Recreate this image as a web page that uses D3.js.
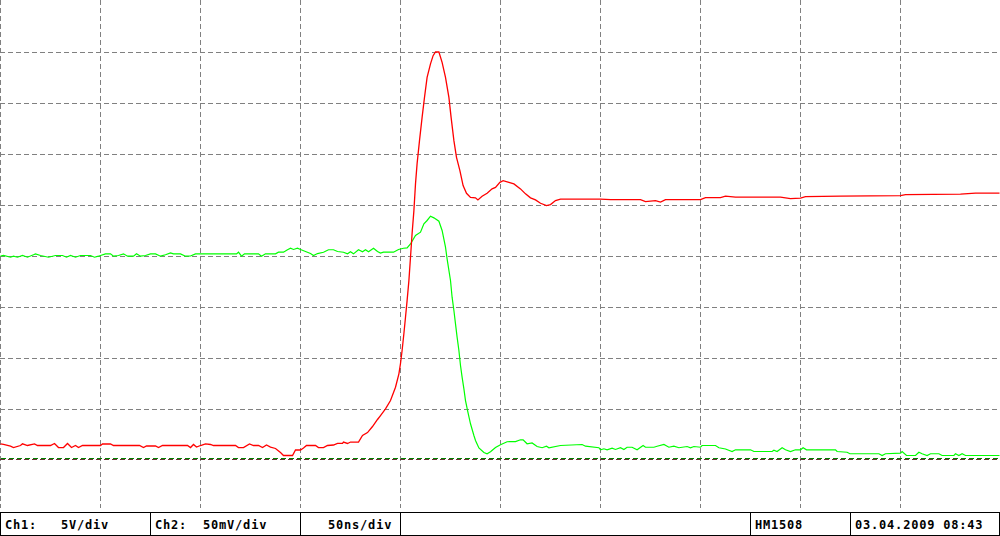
<!DOCTYPE html>
<html>
<head>
<meta charset="utf-8">
<script src="https://cdn.jsdelivr.net/npm/d3@7"></script>
<style>
  html, body { margin: 0; padding: 0; background: #ffffff; }
  svg { display: block; }
  .lbl { font-family: "DejaVu Sans Mono", monospace; font-weight: bold; font-size: 12px; fill: #000; letter-spacing: 0.8px; white-space: pre; }
</style>
</head>
<body>
<svg id="chart" width="1000" height="536"></svg>
<script>
// ---- data (time in ns, Ch1 in volts, Ch2 in millivolts) ----
const timeTicks = [0, 50, 100, 150, 200, 250, 300, 350, 400, 450];
const divTicks = [1, 2, 3, 4, 5, 6, 7, 8];

const ch1 = [
  [0,1.64],[1.5,1.57],[5,1.40],[6.5,1.27],[10,1.47],[11,1.64],[13.5,1.47],[17,1.62],[18.5,1.47],
  [25,1.47],[27,1.67],[29,1.27],[31.5,1.27],[33.5,1.67],[35.5,1.27],[37.5,1.47],[39,1.27],[41,1.47],
  [50,1.47],[51,1.62],[55,1.62],[56.5,1.47],[69.5,1.47],[71.5,1.27],[73,1.42],[77.5,1.42],[79,1.27],
  [81,1.47],[93.5,1.47],[95,1.27],[96.5,1.57],[98,1.32],[100,1.47],[102.5,1.62],[105,1.57],[106.5,1.47],
  [117.5,1.47],[119,1.27],[121.5,1.27],[124.5,1.62],[126.5,1.47],[129,1.47],[131,1.27],[133,1.52],
  [135,1.32],[137.5,1.18],[140,0.78],[141.5,0.49],[146,0.49],[147.5,1.03],[150,1.03],[151.5,1.23],
  [153,1.47],[157.5,1.47],[159,1.27],[161.5,1.27],[163.5,1.47],[166.5,1.52],[168.5,1.67],[171,1.67],
  [171.5,1.81],[173.5,1.67],[175,1.81],[179,1.81],[181,2.45],[183.5,2.74],[186,3.33],[188.5,4.02],
  [190,4.41],[192.5,5.07],[195,5.88],[197.5,7.18],[199.2,8.50],[200,9.51],[200.8,10.78],[201.7,12.45],
  [202.5,14.04],[203.3,15.68],[204.2,17.64],[205,19.92],[205.8,22.25],[206.7,24.50],[207.5,27.12],
  [208.3,29.11],[209.5,31.36],[210.8,33.64],[212,35.60],[213.3,37.56],[215,38.88],[216.3,39.69],
  [217.5,40.05],[219.2,40.05],[220.8,39.03],[222.5,37.56],[224.2,35.60],[225.3,33.64],[226.7,31.36],
  [228,29.72],[229.7,28.42],[231.3,26.95],[233,26.20],[235,25.80],[237.5,25.75],[238.7,25.55],
  [240.8,25.90],[243.3,26.20],[245.8,26.63],[247.5,26.78],[249.7,27.27],[251.3,27.44],[254.2,27.27],
  [256.7,27.12],[260,26.63],[262.5,26.14],[265,25.75],[267.5,25.55],[270,25.22],[273,24.99],[275,25.09],
  [277.5,25.48],[280,25.63],[300,25.63],[305,25.58],[320,25.58],[322.5,25.38],[327.5,25.48],[330,25.33],
  [332.5,25.58],[350,25.58],[352.5,25.77],[360,25.77],[362.5,25.92],[367.5,25.82],[390,25.82],
  [395,25.68],[400,25.72],[402.5,25.87],[420,25.92],[450,25.97],[452.5,26.07],[480,26.12],[487.5,26.22],
  [499.5,26.22]
];

const ch2 = [
  [0,200.3],[1.5,201.0],[5,199.3],[6.5,200.3],[8.5,199.3],[11,201.0],[13.5,199.3],[16.5,201.7],[17.5,202.6],
  [20,201.0],[24,199.3],[27.5,201.0],[31,201.0],[33,199.3],[35,201.0],[37.5,199.3],[40,201.0],[45,201.0],
  [47,199.3],[49,200.3],[50,201.0],[52.5,202.6],[55,202.6],[56.5,200.3],[59,201.0],[61.5,202.6],
  [63.5,200.3],[66.5,200.3],[68,202.6],[70,200.3],[72.5,201.0],[75,202.6],[77.5,202.6],[80,200.3],
  [82.5,201.7],[85,203.6],[86.5,202.6],[90,202.6],[92.5,200.3],[95,200.5],[97.5,202.6],[100,202.6],
  [118,202.6],[119,204.2],[120.5,200.3],[122,202.6],[129,202.6],[130.5,200.3],[132.5,202.6],[137.5,202.6],
  [139,204.2],[141.5,204.2],[143.5,206.6],[145,208.1],[146.5,206.9],[148.5,208.1],[150,206.9],
  [152.5,204.9],[155,202.9],[156.5,201.0],[158.5,202.9],[161.5,204.2],[164,206.6],[166.5,206.6],
  [168.5,204.9],[171.5,204.2],[173.5,202.6],[175,204.6],[176.5,202.6],[179,206.6],[181,204.6],
  [182.5,206.6],[184,204.6],[186.5,208.1],[188.5,204.9],[190,203.4],[191.5,204.2],[196.5,204.2],
  [199,206.9],[201.5,208.1],[203.3,208.5],[205,212.3],[207.5,220.6],[210,223.8],[211.7,232.1],
  [213.3,235.3],[215,239.5],[216.7,237.9],[219.2,234.6],[220.8,225.5],[222.5,209.1],[223.3,197.7],
  [225,176.5],[225.8,160.1],[226.7,147.1],[227.5,134.0],[228.3,120.9],[229.2,107.8],[230,93.1],
  [230.8,81.7],[231.7,70.3],[232.5,58.8],[233.7,47.4],[235,36.0],[236.7,24.5],[237.5,19.6],[239.2,12.3],
  [241.7,7.8],[243.3,6.6],[245,8.6],[247.5,12.7],[250,15.5],[253.3,18.4],[257.5,18.6],[260,20.3],
  [261.3,20.3],[263.3,16.4],[265.8,17.2],[268.3,13.7],[270.8,12.5],[273,14.0],[274.2,12.5],[280,14.7],
  [290.8,15.7],[292.5,14.0],[299.2,12.5],[300,10.5],[301.7,11.5],[303.3,10.5],[305.8,12.1],[307.5,10.8],
  [310,12.5],[311.7,10.8],[313.3,13.0],[315.8,13.0],[318.3,10.5],[321.3,14.7],[322.5,13.0],[326.7,13.0],
  [328.3,14.0],[331.7,15.7],[334.2,13.0],[336.7,14.0],[339.2,12.5],[343.3,13.7],[345,12.5],[346.7,13.7],
  [350,13.0],[350.8,14.7],[357.5,14.7],[359.2,12.5],[362.5,11.3],[365.8,8.8],[367.5,10.5],[375,10.5],
  [376.7,8.8],[385.8,8.8],[386.7,10.1],[388.3,8.8],[390.8,12.5],[392.5,10.5],[395,8.8],[397.5,10.5],
  [400,10.5],[401.3,12.5],[403,10.5],[417.5,10.5],[418.3,8.8],[423.3,8.1],[424.7,6.6],[439.2,6.6],
  [440.8,4.9],[442.5,6.6],[450,7.2],[450.8,8.8],[453,4.9],[457.5,4.9],[459.2,8.1],[460.8,6.6],
  [463.3,4.9],[465,6.6],[469.2,6.6],[470.8,4.9],[476.7,4.9],[477.5,6.6],[479.2,4.9],[480.8,6.6],
  [482.5,4.9],[499.5,4.9]
];

const statusCells = [
  { x0: 0,   x1: 150 },
  { x0: 150, x1: 300 },
  { x0: 300, x1: 400 },
  { x0: 400, x1: 750 },
  { x0: 750, x1: 850 },
  { x0: 850, x1: 1000 }
];
const statusTexts = [
  { x: 5,   text: "Ch1:" },
  { x: 61,  text: "5V/div" },
  { x: 155, text: "Ch2:" },
  { x: 203, text: "50mV/div" },
  { x: 328, text: "50ns/div" },
  { x: 755, text: "HM1508" },
  { x: 855, text: "03.04.2009 08:43" }
];

// ---- scales ----
const svg = d3.select("#chart");
const x = d3.scaleLinear().domain([0, 500]).range([0.5, 1000.5]);
const yDiv = d3.scaleLinear().domain([0, 9]).range([460.5, 1.5]);
const y1 = d3.scaleLinear().domain([0, 45]).range(yDiv.range());   // Ch1: 5 V/div
const y2 = d3.scaleLinear().domain([0, 450]).range(yDiv.range());  // Ch2: 50 mV/div

svg.append("rect").attr("width", 1000).attr("height", 536).attr("fill", "#fff");

// ---- grid ----
const grid = svg.append("g").attr("stroke", "#808080").attr("stroke-width", 1)
  .attr("stroke-dasharray", "5,3").attr("shape-rendering", "crispEdges");
grid.selectAll("line.v").data(timeTicks).join("line").attr("class", "v")
  .attr("x1", d => x(d)).attr("x2", d => x(d)).attr("y1", 0).attr("y2", 508);
grid.selectAll("line.h").data(divTicks).join("line").attr("class", "h")
  .attr("x1", 0).attr("x2", 1000).attr("y1", d => yDiv(d)).attr("y2", d => yDiv(d));

// ---- ground markers ----
svg.append("line").attr("x1", 0).attr("x2", 1000)
  .attr("y1", y1(0) - 1).attr("y2", y1(0) - 1)
  .attr("stroke", "#6a3030").attr("stroke-width", 1).attr("stroke-dasharray", "5,3")
  .attr("shape-rendering", "crispEdges");
svg.append("line").attr("x1", 1).attr("x2", 1000)
  .attr("y1", y2(0) - 2).attr("y2", y2(0) - 2)
  .attr("stroke", "#008000").attr("stroke-width", 1).attr("stroke-dasharray", "5,3")
  .attr("shape-rendering", "crispEdges");

// ---- traces ----
const line2 = d3.line().x(d => x(d[0])).y(d => y2(d[1]));
const line1 = d3.line().x(d => x(d[0])).y(d => y1(d[1]));
svg.append("path").datum(ch2).attr("d", line2).attr("fill", "none")
  .attr("stroke", "#00ff00").attr("stroke-width", 1.2);
svg.append("path").datum(ch1).attr("d", line1).attr("fill", "none")
  .attr("stroke", "#ff0000").attr("stroke-width", 1.3);

// ---- status bar ----
const bar = svg.append("g").attr("shape-rendering", "crispEdges");
bar.selectAll("rect").data(statusCells).join("rect")
  .attr("x", d => d.x0 + 0.5).attr("y", 512.5)
  .attr("width", d => Math.min(d.x1, 999) - d.x0).attr("height", 23)
  .attr("fill", "none").attr("stroke", "#000").attr("stroke-width", 1);
svg.selectAll("text.lbl").data(statusTexts).join("text").attr("class", "lbl")
  .attr("x", d => d.x).attr("y", 528.5).text(d => d.text);
</script>
</body>
</html>
